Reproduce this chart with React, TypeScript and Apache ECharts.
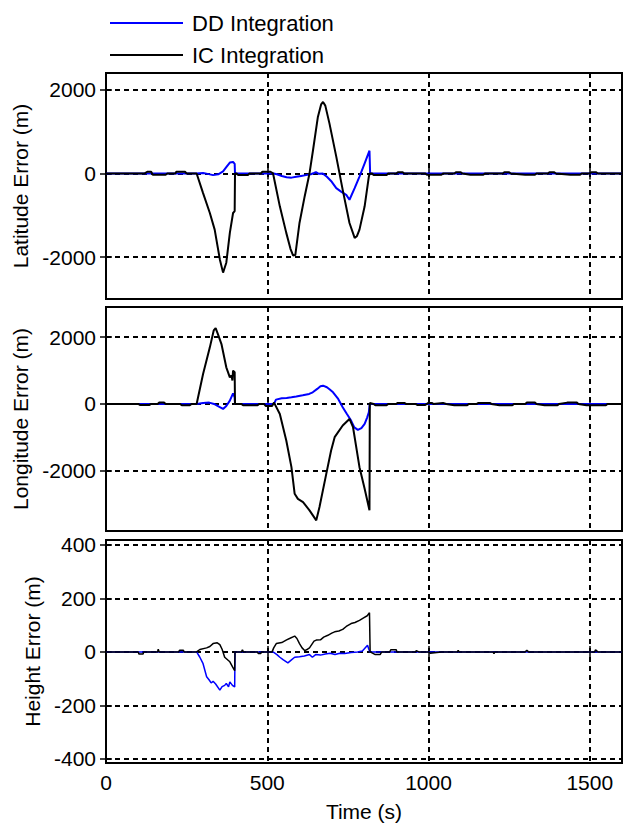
import React, { useEffect, useRef } from "react";
import * as echarts from "echarts";

const LEGEND_NAMES = ["DD Integration", "IC Integration"];
const PANEL_TITLES = ["Latitude Error (m)", "Longitude Error (m)", "Height Error (m)"];
const X_TITLE = "Time (s)";
const X_TICKS = [0, 500, 1000, 1500];
const X_RANGE = [0, 1600];
const Y_TICKS_LAT = [-2000, 0, 2000];
const Y_TICKS_LON = [-2000, 0, 2000];
const Y_TICKS_HGT = [-400, -200, 0, 200, 400];
const Y_RANGE_LAT = [-3000, 2400];
const Y_RANGE_LON = [-3800, 2900];
const Y_RANGE_HGT = [-415, 418];

// Latitude error (m)
const latDD: number[][] = [
  [0, 0], [281, 0], [301, 10], [315, -10], [332, -40], [348, -20], [363, 50], [373, 150],
  [384, 260], [394, 275], [399, 230], [400, 0], [520, 0], [530, -20], [545, -60], [560, -90],
  [575, -100], [590, -80], [605, -60], [620, -40], [635, -20], [645, 10], [651, 30], [660, -10],
  [672, 0], [685, -80], [700, -200], [714, -352], [730, -440], [745, -511], [755, -629],
  [771, -352], [786, -75], [802, 242], [817, 543], [819, 0], [1600, 0],
];
const latIC: number[][] = [
  [0, 0], [120, 0], [128, 40], [140, 40], [145, -30], [185, -30], [190, 0], [215, 0], [218, 40],
  [245, 40], [250, 0], [281, 0], [301, -470], [322, -945], [337, -1342], [353, -2055],
  [363, -2370], [373, -2133], [384, -1420], [394, -945], [399, -900], [400, 0], [405, 0],
  [410, -40], [440, -40], [445, 0], [480, 0], [485, 40], [510, 40], [518, 0], [539, -786],
  [559, -1420], [572, -1800], [580, -1959], [587, -1950], [600, -1183], [616, -549], [631, 0],
  [642, 560], [657, 1350], [667, 1650], [673, 1707], [680, 1620], [693, 1190], [714, 401],
  [734, -392], [755, -1183], [771, -1539], [778, -1500], [786, -1342], [802, -786], [815, -74],
  [818, 0], [825, 0], [830, -40], [870, -40], [875, 0], [900, 0], [905, 30], [920, 30], [925, 0],
  [990, 0], [995, -30], [1040, -30], [1045, 0], [1080, 0], [1085, 30], [1100, 30], [1105, 0],
  [1130, -30], [1170, -30], [1175, 0], [1230, 0], [1235, 30], [1250, 30], [1255, 0], [1300, -30],
  [1330, -30], [1335, 0], [1370, 0], [1375, 30], [1390, 30], [1395, 0], [1440, -30], [1470, -30],
  [1475, 0], [1500, 0], [1505, 30], [1520, 30], [1525, 0], [1600, 0],
];

// Longitude error (m)
const lonDD: number[][] = [
  [0, 0], [281, 0], [301, 30], [320, 40], [335, 0], [350, -80], [363, -149], [373, -60],
  [384, 100], [394, 319], [399, 200], [400, 0], [521, 0], [527, 129], [545, 170], [560, 180],
  [575, 200], [590, 221], [610, 260], [630, 300], [641, 349], [655, 450], [665, 530], [673, 547],
  [685, 500], [694, 430], [704, 349], [720, 150], [734, -99], [747, -300], [760, -497],
  [770, -700], [781, -776], [792, -720], [802, -597], [810, -400], [815, -248], [818, 0], [1600, 0],
];
const lonIC: number[][] = [
  [0, 0], [100, 0], [105, -30], [135, -30], [140, 0], [160, 0], [165, 40], [180, 40], [185, 0],
  [230, 0], [235, -40], [260, -40], [265, 0], [281, 0], [301, 896], [322, 1693], [334, 2200],
  [340, 2269], [347, 2090], [358, 1791], [373, 1096], [384, 797], [389, 850], [392, 700],
  [394, 997], [399, 950], [400, 0], [420, 0], [425, -40], [470, -40], [475, 0], [490, 0],
  [495, -60], [515, -60], [521, 40], [539, -299], [559, -1093], [575, -1890], [585, -2687],
  [595, -2840], [611, -2934], [631, -3182], [652, -3481], [662, -3084], [683, -2090],
  [698, -1391], [709, -994], [734, -645], [755, -448], [766, -696], [786, -1890], [802, -2537],
  [817, -3182], [818, 30], [830, 0], [835, -40], [870, -40], [875, 0], [900, 0], [905, 30],
  [925, 30], [930, 0], [960, 0], [965, -30], [990, -30], [995, 0], [1000, 30], [1010, 30],
  [1015, 0], [1045, 30], [1055, 0], [1080, -40], [1120, -40], [1125, 0], [1150, 0], [1155, 30],
  [1190, 30], [1195, 0], [1220, -40], [1260, -40], [1265, 0], [1300, 0], [1305, 40], [1330, 40],
  [1335, 0], [1360, -40], [1400, -40], [1405, 0], [1430, 40], [1460, 40], [1465, 0], [1490, -40],
  [1550, -40], [1555, 0], [1600, 0],
];

// Height error (m)
const hgtDD: number[][] = [
  [0, 0], [281, 0], [291, -20], [301, -44], [312, -93], [320, -105], [326, -116], [332, -110],
  [340, -120], [353, -143], [360, -130], [368, -125], [373, -118], [380, -130], [384, -112],
  [392, -125], [399, -131], [400, 0], [518, 0], [530, -10], [539, -20], [550, -30], [564, -41],
  [575, -30], [585, -20], [600, -18], [615, -15], [631, -10], [640, -20], [650, -10], [665, -12],
  [680, -8], [695, -5], [710, -10], [725, -5], [740, -6], [760, -2], [780, 0], [795, 3],
  [811, 25], [815, 10], [818, 0], [1600, 0],
];
const hgtIC: number[][] = [
  [0, 0], [100, 0], [102, -8], [115, -8], [117, 0], [160, 0], [162, 10], [165, 0], [225, 0],
  [228, 6], [240, 6], [242, 0], [281, 0], [291, 9], [312, 15], [322, 20], [332, 31], [345, 34],
  [353, 27], [360, 10], [368, -20], [384, -37], [392, -55], [399, -70], [400, 0], [420, 0],
  [423, 8], [426, 0], [470, 0], [472, -6], [480, -6], [482, 0], [515, 0], [520, 15], [528, 31],
  [545, 35], [560, 45], [569, 50], [585, 59], [592, 50], [600, 31], [608, 15], [616, 5],
  [625, 10], [631, 15], [645, 40], [652, 44], [665, 45], [675, 55], [688, 62], [700, 70],
  [709, 75], [722, 78], [734, 84], [745, 95], [760, 106], [772, 110], [786, 118], [800, 128],
  [810, 135], [817, 146], [819, 0], [835, -10], [850, -10], [855, 0], [880, 0], [883, 8],
  [900, 8], [902, 0], [960, 0], [962, 5], [970, 0], [1000, 0], [1005, -5], [1040, 0],
  [1090, 0], [1092, 6], [1095, 0], [1200, 0], [1203, -6], [1206, 0], [1300, 0], [1305, 6],
  [1310, 0], [1515, 0], [1518, 8], [1525, 0], [1600, 0],
];

const FONT = "'Liberation Sans', Arial, sans-serif";
const BLUE = "#0000ff";
const BLACK = "#000000";

export default function App() {
  const ref = useRef<HTMLDivElement>(null);

  useEffect(() => {
    if (!ref.current) return;
    const chart = echarts.init(ref.current, undefined, { renderer: "svg" });

    const grids = [
      { top: 73, height: 226 },
      { top: 307, height: 224 },
      { top: 540, height: 223 },
    ].map((g) => ({
      left: 106,
      right: 6,
      top: g.top,
      height: g.height,
      show: true,
      borderColor: BLACK,
      borderWidth: 2,
      backgroundColor: "#fff",
      containLabel: false,
    }));

    const yRanges = [Y_RANGE_LAT, Y_RANGE_LON, Y_RANGE_HGT];
    const yTicks = [Y_TICKS_LAT, Y_TICKS_LON, Y_TICKS_HGT];
    const ddData = [latDD, lonDD, hgtDD];
    const icData = [latIC, lonIC, hgtIC];
    const widths = [2, 2, 1.5];
    const plain = (v: number) => String(v);

    const tickStyle = { show: true, inside: true, length: 6, lineStyle: { color: BLACK, width: 1.5 } };
    const dashed = { show: true, lineStyle: { color: BLACK, type: [5, 4], width: 2 } };

    const xAxis: any[] = [];
    const yAxis: any[] = [];
    for (let i = 0; i < 3; i++) {
      xAxis.push({
        type: "value",
        gridIndex: i,
        position: "bottom",
        min: X_RANGE[0],
        max: X_RANGE[1],
        axisLine: { show: false },
        axisTick: { ...tickStyle, customValues: X_TICKS },
        splitLine: dashed,
        axisLabel: {
          show: i === 2,
          customValues: X_TICKS,
          formatter: plain,
          color: BLACK,
          fontSize: 21,
          fontFamily: FONT,
          margin: 9,
        },
        name: i === 2 ? X_TITLE : "",
        nameLocation: "middle",
        nameGap: 38,
        nameTextStyle: { color: BLACK, fontSize: 21, fontFamily: FONT },
      });
      yAxis.push({
        type: "value",
        gridIndex: i,
        position: "left",
        min: yRanges[i][0],
        max: yRanges[i][1],
        axisLine: { show: false },
        axisTick: { ...tickStyle, customValues: yTicks[i] },
        splitLine: dashed,
        axisLabel: {
          customValues: yTicks[i],
          formatter: plain,
          color: BLACK,
          fontSize: 21,
          fontFamily: FONT,
          margin: 10,
        },
        name: PANEL_TITLES[i],
        nameLocation: "middle",
        nameRotate: 90,
        nameGap: 58,
        nameTextStyle: { color: BLACK, fontSize: 21, fontFamily: FONT },
      });
    }
    for (let i = 0; i < 3; i++) {
      xAxis.push({
        type: "value",
        gridIndex: i,
        position: "top",
        min: X_RANGE[0],
        max: X_RANGE[1],
        axisLine: { show: false },
        axisTick: { ...tickStyle, customValues: X_TICKS },
        splitLine: { show: false },
        axisLabel: { show: false, customValues: X_TICKS },
      });
      yAxis.push({
        type: "value",
        gridIndex: i,
        position: "right",
        min: yRanges[i][0],
        max: yRanges[i][1],
        axisLine: { show: false },
        axisTick: { ...tickStyle, customValues: yTicks[i] },
        splitLine: { show: false },
        axisLabel: { show: false, customValues: yTicks[i] },
      });
    }

    const series: any[] = [];
    for (let i = 0; i < 3; i++) {
      series.push({
        name: LEGEND_NAMES[0],
        type: "line",
        xAxisIndex: i,
        yAxisIndex: i,
        data: ddData[i],
        showSymbol: false,
        symbol: "none",
        lineStyle: { color: BLUE, width: widths[i] },
        itemStyle: { color: BLUE },
        z: 3,
      });
    }
    for (let i = 0; i < 3; i++) {
      series.push({
        name: LEGEND_NAMES[1],
        type: "line",
        xAxisIndex: i,
        yAxisIndex: i,
        data: icData[i],
        showSymbol: false,
        symbol: "none",
        lineStyle: { color: BLACK, width: widths[i] },
        itemStyle: { color: BLACK },
        z: 4,
      });
    }

    chart.setOption({
      animation: false,
      backgroundColor: "#fff",
      textStyle: { fontFamily: FONT },
      legend: {
        data: LEGEND_NAMES,
        orient: "vertical",
        left: 105,
        top: 7,
        itemWidth: 73,
        itemHeight: 2,
        itemGap: 10,
        icon: "rect",
        textStyle: { color: BLACK, fontSize: 22, fontFamily: FONT, padding: [0, 0, 0, 4] },
      },
      grid: grids,
      xAxis,
      yAxis,
      series,
    });

    return () => chart.dispose();
  }, []);

  return (
    <div
      ref={ref}
      style={{ position: "absolute", left: 0, top: 0, width: 628, height: 828, background: "#fff" }}
    />
  );
}
